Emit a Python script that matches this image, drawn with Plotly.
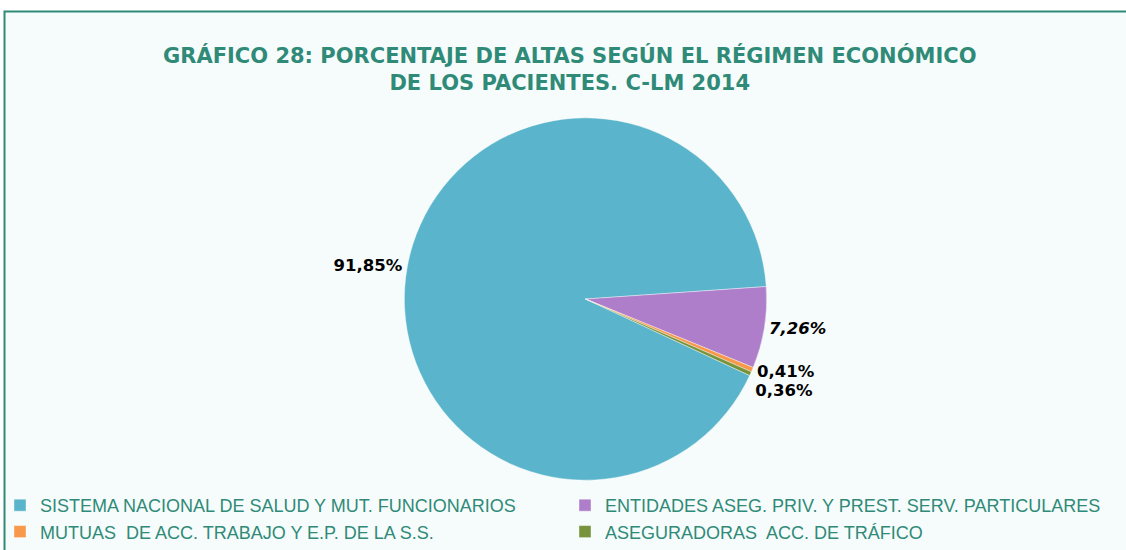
import plotly.graph_objects as go

categories = [
    "SISTEMA NACIONAL DE SALUD Y MUT. FUNCIONARIOS",
    "ENTIDADES ASEG. PRIV. Y PREST. SERV. PARTICULARES",
    "MUTUAS  DE ACC. TRABAJO Y E.P. DE LA S.S.",
    "ASEGURADORAS  ACC. DE TRÁFICO",
]
values = [91.85, 7.26, 0.41, 0.36]
colors = ["#5AB4CB", "#AF7ECB", "#F7984A", "#77933C"]
templates = [
    "<b>%{value:.2f}%</b>",
    "<b><i>%{value:.2f}%</i></b>",
    "<b>%{value:.2f}%</b>",
    "<b>%{value:.2f}%</b>",
]

GREEN = "#2F8A77"
BG = "#F6FCFC"

fig = go.Figure(
    go.Pie(
        labels=categories,
        values=values,
        marker=dict(colors=colors, line=dict(color="#FFFFFF", width=0.4)),
        sort=False,
        direction="clockwise",
        rotation=115,
        texttemplate=templates,
        textposition="outside",
        textfont=dict(family="DejaVu Sans", size=16.5, color="#000000"),
        hoverinfo="skip",
        domain=dict(x=[0.30, 0.74], y=[0.1270, 0.7857]),
        automargin=False,
        showlegend=True,
    )
)

fig.update_layout(
    width=1126,
    height=550,
    margin=dict(l=0, r=0, t=0, b=0),
    paper_bgcolor="#FFFFFF",
    plot_bgcolor=BG,
    separators=",.",
    title=dict(
        text="<b>GRÁFICO 28: PORCENTAJE DE ALTAS SEGÚN EL RÉGIMEN ECONÓMICO<br>DE LOS PACIENTES. C-LM 2014</b>",
        x=0.506,
        xanchor="center",
        y=1 - 63 / 550,
        yanchor="top",
        font=dict(family="DejaVu Sans", size=21, color=GREEN),
    ),
    shapes=[
        dict(
            type="rect",
            xref="paper",
            yref="paper",
            x0=4.5 / 1126,
            x1=1.01,
            y0=-0.01,
            y1=1 - 11.5 / 550,
            line=dict(color=GREEN, width=2),
            fillcolor=BG,
            layer="below",
        )
    ],
    legend=dict(
        orientation="h",
        x=10 / 1126,
        xanchor="left",
        y=0,
        yanchor="bottom",
        entrywidth=520,
        entrywidthmode="pixels",
        font=dict(family="Liberation Sans, Arial", size=18, color=GREEN),
        bgcolor="rgba(0,0,0,0)",
        itemwidth=30,
        tracegroupgap=0,
    ),
)

post = """
document.body.style.margin='0';
document.querySelectorAll('path.textline').forEach(function(p){p.style.stroke='none';});
"""
fig.write_html("out.html", post_script=post, config={"displayModeBar": False})
